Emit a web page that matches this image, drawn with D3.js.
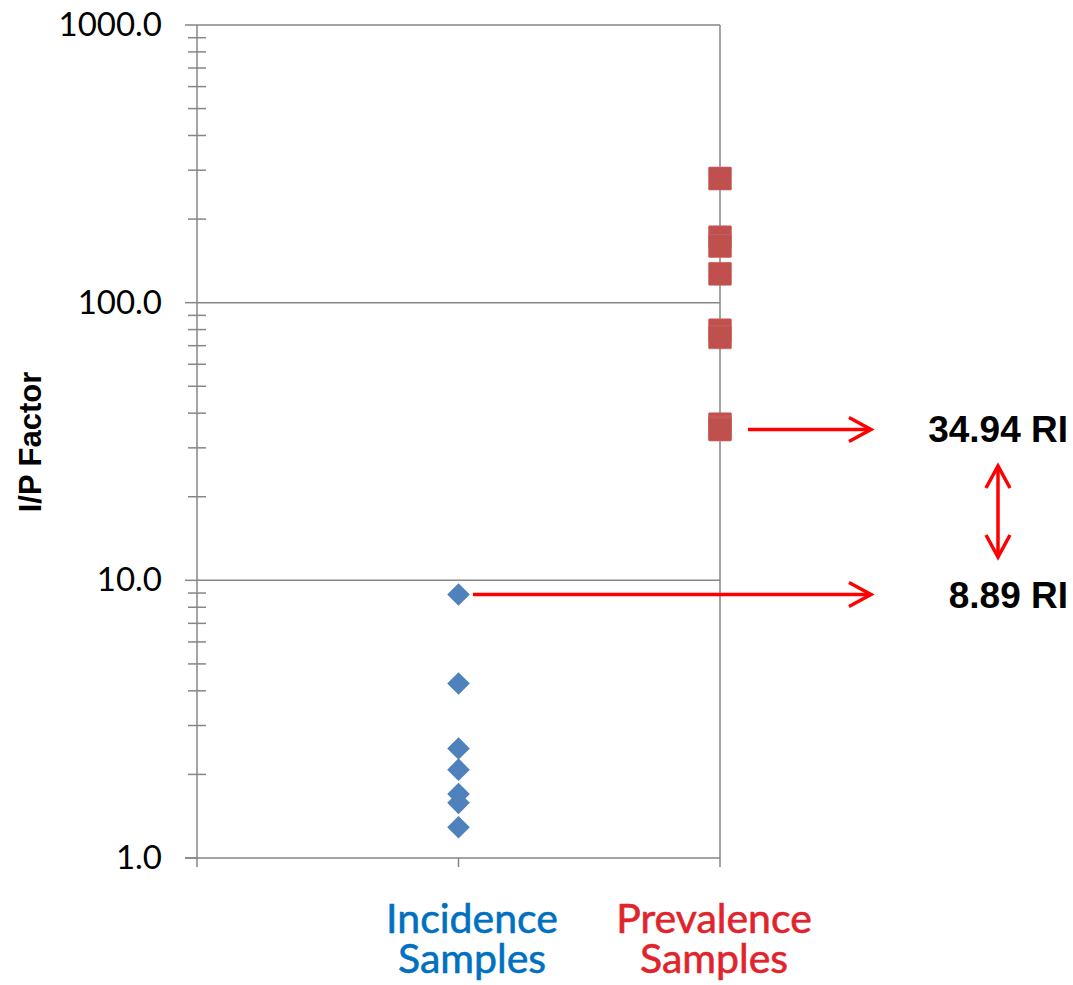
<!DOCTYPE html>
<html>
<head>
<meta charset="utf-8">
<script src="https://cdn.jsdelivr.net/npm/d3@7"></script>
<style>
  html, body { margin: 0; padding: 0; background: #fff; }
  svg { display: block; }
</style>
</head>
<body>
<svg id="chart" width="1073" height="985"></svg>
<script>
// Data
const categories = ["Incidence Samples", "Prevalence Samples"];
const incidenceValues = [8.89, 4.25, 2.48, 2.08, 1.70, 1.58, 1.29];
const prevalenceValues = [280, 172, 160, 127, 79.5, 75, 36.5, 35.5, 34.94];
const yTicks = [1, 10, 100, 1000];
const annotations = [
    { value: 34.94, label: "34.94 RI" },
    { value: 8.89, label: "8.89 RI" }
];

const svg = d3.select("#chart");
const gray = "#868686";
const red = "#ff0000";

// Scales
const x = d3.scaleLinear().domain([0, 2]).range([197, 720]);
const y = d3.scaleLog().domain([1, 1000]).range([858, 25]);

// Horizontal gridlines
svg.append("g")
    .selectAll("line")
    .data(yTicks.slice(1))
    .join("line")
    .attr("x1", x(0)).attr("x2", x(2))
    .attr("y1", d => y(d)).attr("y2", d => y(d))
    .attr("stroke", gray).attr("stroke-width", 1.5);

// Vertical gridline at the second category
svg.append("line")
    .attr("x1", x(2)).attr("x2", x(2))
    .attr("y1", y(1000)).attr("y2", y(1))
    .attr("stroke", gray).attr("stroke-width", 1.5);

// Y axis: minor ticks cross the axis, major ticks stick out left
const minorTicks = [];
for (let dec = 1; dec < 1000; dec *= 10) {
    for (let m = 2; m <= 9; m++) minorTicks.push(dec * m);
}

const yAxis = svg.append("g");
yAxis.append("line")
    .attr("x1", x(0)).attr("x2", x(0))
    .attr("y1", y(1000)).attr("y2", y(1))
    .attr("stroke", gray).attr("stroke-width", 1.5);

yAxis.selectAll(".minor")
    .data(minorTicks)
    .join("line")
    .attr("class", "minor")
    .attr("x1", x(0) - 9).attr("x2", x(0) + 9)
    .attr("y1", d => y(d)).attr("y2", d => y(d))
    .attr("stroke", gray).attr("stroke-width", 1.5);

yAxis.selectAll(".major")
    .data(yTicks)
    .join("line")
    .attr("class", "major")
    .attr("x1", x(0) - 12).attr("x2", x(0))
    .attr("y1", d => y(d)).attr("y2", d => y(d))
    .attr("stroke", gray).attr("stroke-width", 1.5);

yAxis.selectAll(".tick-label")
    .data(yTicks)
    .join("text")
    .attr("class", "tick-label")
    .attr("x", 162)
    .attr("y", d => y(d) + 11)
    .attr("text-anchor", "end")
    .style("font-family", "Lato, 'Open Sans', sans-serif")
    .style("font-size", "33px")
    .style("fill", "#000")
    .text(d => d3.format(".1f")(d));

// Y axis title
svg.append("text")
    .attr("transform", "translate(41,442) rotate(-90)")
    .attr("text-anchor", "middle")
    .style("font-family", "'Liberation Sans', Arial, sans-serif")
    .style("font-weight", "bold")
    .style("font-size", "31px")
    .text("I/P Factor");

// X axis
const xAxis = svg.append("g");
xAxis.append("line")
    .attr("x1", x(0) - 12).attr("x2", x(2))
    .attr("y1", y(1)).attr("y2", y(1))
    .attr("stroke", gray).attr("stroke-width", 1.5);

xAxis.selectAll(".xtick")
    .data([0, 1, 2])
    .join("line")
    .attr("class", "xtick")
    .attr("x1", d => x(d)).attr("x2", d => x(d))
    .attr("y1", y(1)).attr("y2", y(1) + 9)
    .attr("stroke", gray).attr("stroke-width", 1.5);

// Category labels (two lines each)
const catColors = ["#0070c0", "#e0242c"];
const catCenters = [472, 714];
categories.forEach((c, i) => {
    const words = c.split(" ");
    const t = svg.append("text")
        .attr("text-anchor", "middle")
        .style("font-family", "Lato, 'Open Sans', sans-serif")
        .style("font-size", "41px")
        .style("fill", catColors[i])
        .style("stroke", catColors[i])
        .style("stroke-width", 0.6);
    words.forEach((w, j) => {
        t.append("tspan")
            .attr("x", catCenters[i])
            .attr("y", 933 + j * 40)
            .text(w);
    });
});

// Incidence markers (diamonds)
svg.append("g")
    .selectAll("path")
    .data(incidenceValues)
    .join("path")
    .attr("transform", d => `translate(${x(1)},${y(d)}) rotate(45)`)
    .attr("d", "M-8,-8H8V8H-8Z")
    .attr("fill", "#4f81bd");

// Prevalence markers (squares)
svg.append("g")
    .selectAll("rect")
    .data(prevalenceValues)
    .join("rect")
    .attr("x", x(2) - 11.5)
    .attr("y", d => y(d) - 11.5)
    .attr("width", 23).attr("height", 23)
    .attr("rx", 1)
    .attr("fill", "#c0504d")
    .attr("stroke", "#c96a67")
    .attr("stroke-width", 0.6);

// Arrow helpers
function arrowHead(g, tipX, tipY, dx, dy) {
    // open chevron; (dx,dy) is unit direction of travel
    const len = 22, half = 12;
    const bx = tipX - dx * len, by = tipY - dy * len;
    g.append("path")
        .attr("d", `M${bx - dy * half},${by + dx * half}L${tipX},${tipY}L${bx + dy * half},${by - dx * half}`)
        .attr("fill", "none")
        .attr("stroke", red)
        .attr("stroke-width", 3.5)
        .attr("stroke-linejoin", "miter");
}

const arrows = svg.append("g");
const arrowStarts = [748, 473];
const arrowEnd = 871;
annotations.forEach((a, i) => {
    const yy = y(a.value);
    arrows.append("line")
        .attr("x1", arrowStarts[i]).attr("x2", arrowEnd - 1)
        .attr("y1", yy).attr("y2", yy)
        .attr("stroke", red).attr("stroke-width", 3.5);
    arrowHead(arrows, arrowEnd, yy, 1, 0);

    svg.append("text")
        .attr("x", 1068)
        .attr("y", yy + 13)
        .attr("text-anchor", "end")
        .style("font-family", "'Liberation Sans', Arial, sans-serif")
        .style("font-weight", "bold")
        .style("font-size", "37px")
        .text(a.label);
});

// Double-headed vertical arrow between the two labels
const vx = 998, vTop = 466, vBot = 557;
arrows.append("line")
    .attr("x1", vx).attr("x2", vx)
    .attr("y1", vTop + 1).attr("y2", vBot - 1)
    .attr("stroke", red).attr("stroke-width", 3.5);
arrowHead(arrows, vx, vTop, 0, -1);
arrowHead(arrows, vx, vBot, 0, 1);
</script>
</body>
</html>
